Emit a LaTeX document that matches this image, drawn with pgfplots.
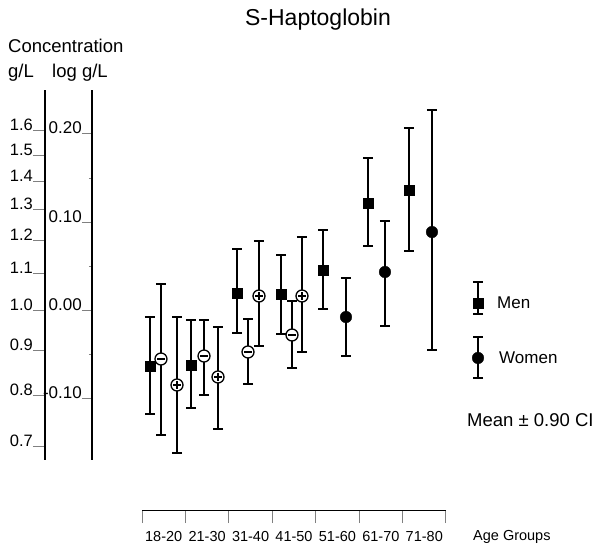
\documentclass[border=0pt]{standalone}
\usepackage{fontspec}
\setmainfont{Liberation Sans}
\usepackage{pgfplots}
\pgfplotsset{compat=1.18}
\usetikzlibrary{plotmarks}

\pgfdeclareplotmark{ominusw}{%
  \pgfpathcircle{\pgfpointorigin}{\pgfplotmarksize}%
  \pgfusepathqfillstroke
  \pgfpathmoveto{\pgfqpoint{-0.6\pgfplotmarksize}{0pt}}%
  \pgfpathlineto{\pgfqpoint{0.6\pgfplotmarksize}{0pt}}%
  \pgfusepathqstroke}
\pgfdeclareplotmark{opplusw}{%
  \pgfpathcircle{\pgfpointorigin}{\pgfplotmarksize}%
  \pgfusepathqfillstroke
  \pgfpathmoveto{\pgfqpoint{-0.6\pgfplotmarksize}{0pt}}%
  \pgfpathlineto{\pgfqpoint{0.6\pgfplotmarksize}{0pt}}%
  \pgfpathmoveto{\pgfqpoint{0pt}{-0.6\pgfplotmarksize}}%
  \pgfpathlineto{\pgfqpoint{0pt}{0.6\pgfplotmarksize}}%
  \pgfusepathqstroke}

\pgfplotsset{
  ebar/.style={
    only marks,
    error bars/y dir=both,
    error bars/y explicit,
    error bars/error bar style={line width=1.7pt, black},
    error bars/error mark options={rotate=90, mark size=5pt, line width=1.6pt, black},
  },
}

\begin{document}
\begin{tikzpicture}[x=1pt,y=1pt]
\useasboundingbox (0,0) rectangle (598,547);

% g/L axis
\begin{axis}[
  at={(45pt,87pt)}, anchor=south west,
  scale only axis, width=10pt, height=370pt,
  xmin=0, xmax=1, ymin=-0.17045, ymax=0.25,
  axis y line=left, axis x line=none,
  every outer y axis line/.append style={-},
  every inner y axis line/.append style={-},
  axis line style={-, line width=1.4pt},
  ytick={-0.15490,-0.09691,-0.04576,0,0.04139,0.07918,0.11394,0.14613,0.17609,0.20412},
  yticklabels={0.7,0.8,0.9,1.0,1.1,1.2,1.3,1.4,1.5,1.6},
  ytick align=outside, major tick length=12pt,
  ytick style={line width=1pt},
  yticklabel style={anchor=base east, inner sep=0pt, font=\fontsize{16.5}{16.5}\selectfont},
]
\end{axis}

% log g/L axis
\begin{axis}[
  at={(92pt,87pt)}, anchor=south west,
  scale only axis, width=10pt, height=370pt,
  xmin=0, xmax=1, ymin=-0.17045, ymax=0.25,
  axis y line=left, axis x line=none,
  every outer y axis line/.append style={-},
  every inner y axis line/.append style={-},
  axis line style={-, line width=1.4pt},
  ytick={-0.1,0,0.1,0.2},
  yticklabels={-0.10,0.00,0.10,0.20},
  minor ytick={-0.05,0.05,0.15},
  ytick align=outside, major tick length=10pt, minor tick length=3pt,
  ytick style={line width=1pt},
  yticklabel style={anchor=base east, inner sep=0pt, font=\fontsize{17}{17}\selectfont},
]
\end{axis}

% main data axis
\begin{axis}[
  at={(142pt,37pt)}, anchor=south west,
  scale only axis, width=304pt, height=420pt,
  xmin=0, xmax=7, ymin=-0.22727, ymax=0.25,
  clip=false,
  axis x line=bottom, axis y line=none,
  every outer x axis line/.append style={-},
  every inner x axis line/.append style={-},
  axis line style={-, line width=1pt},
  xtick={0.5,1.5,2.5,3.5,4.5,5.5,6.5},
  xticklabels={18-20,21-30,31-40,41-50,51-60,61-70,71-80},
  minor xtick={0,1,2,3,4,5,6,7},
  xtick align=outside, major tick length=0pt, minor tick length=13pt,
  xtick style={line width=1pt},
  xticklabel style={anchor=base, font=\fontsize{14.5}{14.5}\selectfont, yshift=-31pt},
]
% Men
\addplot+[ebar, mark=square*, mark size=5pt, black, mark options={fill=black}]
coordinates {
  (0.184,-0.0636) += (0,0.0557) -= (0,0.0545)
  (1.128,-0.0625) += (0,0.0511) -= (0,0.0489)
  (2.188,0.0193) += (0,0.0500) -= (0,0.0455)
  (3.201,0.0182) += (0,0.0443) -= (0,0.0455)
  (4.168,0.0455) += (0,0.0455) -= (0,0.0443)
  (5.204,0.1216) += (0,0.0511) -= (0,0.0489)
  (6.148,0.1364) += (0,0.0705) -= (0,0.0693)
  (7.737,0.0080) += (0,0.0239) -= (0,0.0125)
};
% Women (minus)
\addplot+[ebar, mark=ominusw, mark size=6pt, black, mark options={fill=white, line width=1.3pt}]
coordinates {
  (0.437,-0.0557) += (0,0.0852) -= (0,0.0864)
  (1.428,-0.0523) += (0,0.0409) -= (0,0.0443)
  (2.441,-0.0477) += (0,0.0375) -= (0,0.0364)
  (3.454,-0.0284) += (0,0.0386) -= (0,0.0375)
};
% Women (plus)
\addplot+[ebar, mark=opplusw, mark size=6pt, black, mark options={fill=white, line width=1.3pt}]
coordinates {
  (0.806,-0.0852) += (0,0.0773) -= (0,0.0773)
  (1.750,-0.0761) += (0,0.0568) -= (0,0.0591)
  (2.694,0.0159) += (0,0.0625) -= (0,0.0568)
  (3.684,0.0159) += (0,0.0670) -= (0,0.0636)
};
% Women
\addplot+[ebar, mark=*, mark size=5.8pt, black, mark options={fill=black}]
coordinates {
  (4.697,-0.0080) += (0,0.0443) -= (0,0.0443)
  (5.595,0.0432) += (0,0.0580) -= (0,0.0614)
  (6.677,0.0886) += (0,0.1386) -= (0,0.1341)
  (7.737,-0.0545) += (0,0.0239) -= (0,0.0227)
};
\end{axis}

\node[anchor=base, inner sep=0pt, font=\fontsize{23}{23}\selectfont] at (318,521) {S-Haptoglobin};
\node[anchor=base west, inner sep=0pt, font=\fontsize{18.5}{18.5}\selectfont] at (8,494) {Concentration};
\node[anchor=base west, inner sep=0pt, font=\fontsize{18.5}{18.5}\selectfont] at (8,469) {g/L};
\node[anchor=base west, inner sep=0pt, font=\fontsize{18.5}{18.5}\selectfont] at (52,469) {log g/L};
\node[anchor=base west, inner sep=0pt, font=\fontsize{14.5}{14.5}\selectfont] at (473,6) {Age Groups};
\node[anchor=base west, inner sep=0pt, font=\fontsize{17}{17}\selectfont] at (497,238) {Men};
\node[anchor=base west, inner sep=0pt, font=\fontsize{17}{17}\selectfont] at (499,183) {Women};
\node[anchor=base west, inner sep=0pt, font=\fontsize{18.5}{18.5}\selectfont] at (467,120) {Mean ± 0.90 CI};
\end{tikzpicture}
\end{document}
